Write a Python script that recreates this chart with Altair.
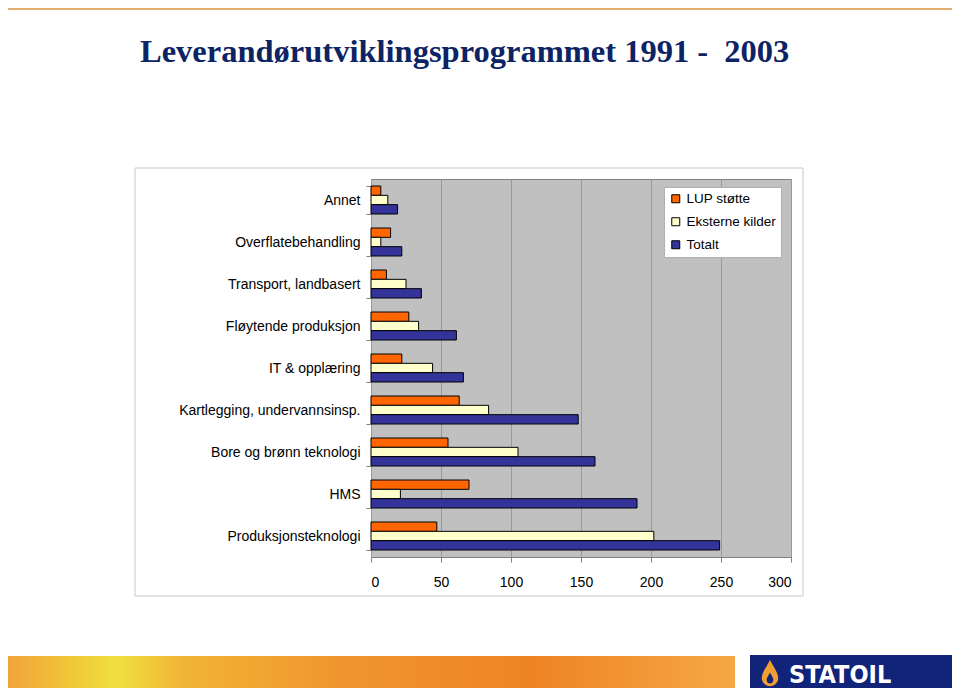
import altair as alt
import pandas as pd

categories = [
    "Annet",
    "Overflatebehandling",
    "Transport, landbasert",
    "Fløytende produksjon",
    "IT & opplæring",
    "Kartlegging, undervannsinsp.",
    "Bore og brønn teknologi",
    "HMS",
    "Produksjonsteknologi",
]
series = ["LUP støtte", "Eksterne kilder", "Totalt"]
lup = [7, 14, 11, 27, 22, 63, 55, 70, 47]
eksterne = [12, 7, 25, 34, 44, 84, 105, 21, 202]
totalt = [19, 22, 36, 61, 66, 148, 160, 190, 249]
colors = ["#FF6600", "#FFFFCC", "#333399"]
x_ticks = [0, 50, 100, 150, 200, 250, 300]
title_text = "Leverandørutviklingsprogrammet 1991 -\u00a0 2003"
logo_text = "STATOIL"

rows = []
for i, c in enumerate(categories):
    for s, vals in zip(series, [lup, eksterne, totalt]):
        rows.append({"category": c, "series": s, "value": vals[i]})
df = pd.DataFrame(rows)

bars = alt.Chart(df).mark_bar(stroke="black", strokeWidth=1).encode(
    y=alt.Y(
        "category:N",
        sort=categories,
        scale=alt.Scale(paddingInner=1 / 3, paddingOuter=1 / 6),
        axis=alt.Axis(
            title=None,
            labelFontSize=14,
            labelColor="#000000",
            labelFont="Liberation Sans",
            labelLimit=400,
            tickBand="extent",
            tickColor="#808080",
            tickSize=5,
            labelPadding=6,
            domain=False,
        ),
    ),
    yOffset=alt.YOffset("series:N", sort=series, scale=alt.Scale(paddingInner=0, paddingOuter=0)),
    x=alt.X(
        "value:Q",
        scale=alt.Scale(domain=[0, 300], nice=False),
        axis=alt.Axis(
            title=None,
            values=x_ticks,
            labelFontSize=14,
            labelColor="#000000",
            labelFont="Liberation Sans",
            gridColor="#999999",
            gridWidth=1,
            tickColor="#808080",
            tickSize=5,
            labelPadding=13,
            domain=False,
        ),
    ),
    fill=alt.Fill(
        "series:N",
        sort=series,
        scale=alt.Scale(domain=series, range=colors),
        legend=alt.Legend(
            title=None,
            orient="none",
            legendX=293,
            legendY=8,
            fillColor="white",
            strokeColor="#b0b0b0",
            padding=5,
            symbolType="square",
            symbolSize=64,
            symbolStrokeColor="black",
            symbolStrokeWidth=1,
            labelFontSize=13.5,
            labelFont="Liberation Sans",
            labelColor="#000000",
            labelOffset=4,
            rowPadding=8,
        ),
    ),
)

one = alt.Data(values=[{}])

outer_box = alt.Chart(one).mark_rect(fill="white", fillOpacity=0, stroke="#c8c8c8", strokeWidth=1).encode(
    x=alt.value(-236), x2=alt.value(432), y=alt.value(-11), y2=alt.value(417)
)

title = alt.Chart(one).mark_text(
    text=title_text, align="left", baseline="alphabetic",
    font="Liberation Serif", fontWeight="bold", fontSize=32.5, color="#0c2364",
).encode(x=alt.value(-231), y=alt.value(-117))

top_line = alt.Chart(one).mark_rule(color="#e3ad72", strokeWidth=2).encode(
    x=alt.value(-363), x2=alt.value(581), y=alt.value(-170)
)

banner = alt.Chart(one).mark_rect(
    fill=alt.LinearGradient(
        gradient="linear",
        x1=0, x2=1, y1=0, y2=0,
        stops=[
            alt.GradientStop(color="#f2a43a", offset=0),
            alt.GradientStop(color="#f0c838", offset=0.09),
            alt.GradientStop(color="#efe040", offset=0.15),
            alt.GradientStop(color="#f2b435", offset=0.24),
            alt.GradientStop(color="#f0962e", offset=0.45),
            alt.GradientStop(color="#ee8424", offset=0.72),
            alt.GradientStop(color="#f29535", offset=0.86),
            alt.GradientStop(color="#f5a845", offset=1),
        ],
    ),
    strokeWidth=0,
).encode(x=alt.value(-363), x2=alt.value(364), y=alt.value(477), y2=alt.value(509))

logo_box = alt.Chart(one).mark_rect(fill="#12237a", strokeWidth=0).encode(
    x=alt.value(379), x2=alt.value(584), y=alt.value(476), y2=alt.value(509)
)

drop_path = "M0,-1 C0.25,-0.45 0.62,-0.05 0.62,0.38 A0.62,0.62 0 1,1 -0.62,0.38 C-0.62,-0.05 -0.25,-0.45 0,-1 Z"
drop = alt.Chart(one).mark_point(shape=drop_path, filled=True, fill="#f0a030", strokeWidth=0, size=700, opacity=1).encode(
    x=alt.value(399), y=alt.value(494)
)
drop_inner = alt.Chart(one).mark_point(shape=drop_path, filled=True, fill="#12237a", strokeWidth=0, size=120, opacity=1).encode(
    x=alt.value(399), y=alt.value(499)
)

logo = alt.Chart(one).mark_text(
    text=logo_text, align="left", baseline="alphabetic",
    font="DejaVu Sans Condensed, Liberation Sans, sans-serif", fontWeight="bold", fontSize=25, color="white",
).encode(x=alt.value(418), y=alt.value(504))

chart = alt.layer(
    bars, outer_box, title, top_line, banner, logo_box, drop, drop_inner, logo
).properties(
    width=420,
    height=378,
    padding={"left": 363, "top": 171, "right": 161, "bottom": 131},
    autosize=alt.AutoSizeParams(type="none"),
).configure_view(
    fill="#c0c0c0", stroke="#808080", strokeWidth=1
)

chart.save("out.html", embed_options={"renderer": "svg", "actions": False})
